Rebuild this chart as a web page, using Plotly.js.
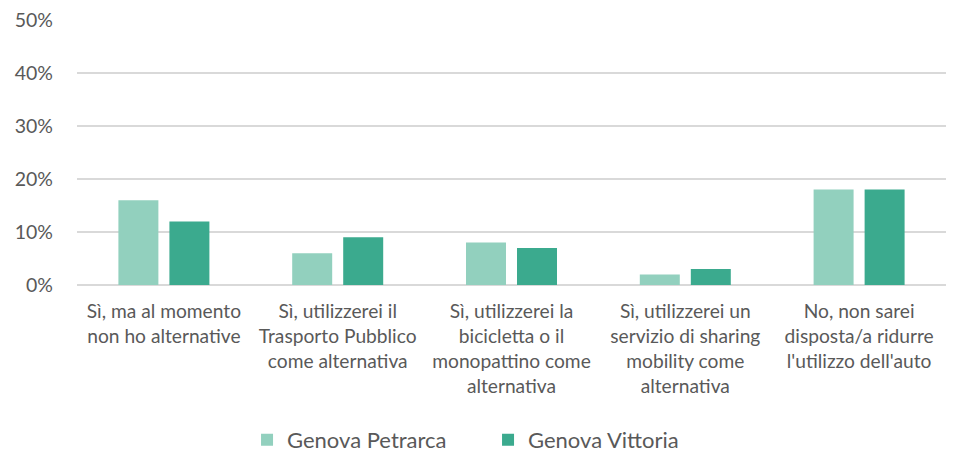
<!DOCTYPE html>
<html><head><meta charset="utf-8">
<script src="https://cdn.plot.ly/plotly-3.0.1.min.js"></script>
<style>body{margin:0;background:#fff}#c{width:953px;height:453px}</style>
</head><body><div id="c"></div>
<script>
const categories = [
  "Sì, ma al momento<br>non ho alternative",
  "Sì, utilizzerei il<br>Trasporto Pubblico<br>come alternativa",
  "Sì, utilizzerei la<br>bicicletta o il<br>monopattino come<br>alternativa",
  "Sì, utilizzerei un<br>servizio di sharing<br>mobility come<br>alternativa",
  "No, non sarei<br>disposta/a ridurre<br>l'utilizzo dell'auto"
];
const seriesNames = ["Genova Petrarca", "Genova Vittoria"];
const petrarca = [0.16, 0.06, 0.08, 0.02, 0.18];
const vittoria = [0.12, 0.09, 0.07, 0.03, 0.18];
const colors = ["#92D0BE", "#3BAA8E"];
const yTicks = [0, 0.1, 0.2, 0.3, 0.4, 0.5];

const font = "Lato, 'Open Sans', sans-serif";
const traces = [petrarca, vittoria].map((vals, i) => ({
  type: "bar", name: seriesNames[i], x: categories, y: vals,
  marker: {color: colors[i]}, hoverinfo: "skip"
}));
const layout = {
  width: 953, height: 453,
  margin: {l: 77, r: 7, t: 20, b: 168},
  paper_bgcolor: "#fff", plot_bgcolor: "#fff",
  font: {family: font, color: "#595959", size: 18},
  barmode: "group", bargap: 0.413, bargroupgap: 0.216,
  xaxis: {
    type: "category", showgrid: false, showline: false, zeroline: false,
    ticks: "", ticklabelstandoff: 13,
    tickfont: {size: 19.2, color: "#595959"}, automargin: false, fixedrange: true
  },
  yaxis: {
    range: [0, 0.5], tickvals: yTicks, tickformat: ".0%",
    showgrid: true, gridcolor: "#D9D9D9", gridwidth: 2,
    zeroline: true, zerolinecolor: "#D9D9D9", zerolinewidth: 2,
    showline: false, ticks: "", ticklabelstandoff: 23,
    tickfont: {size: 19.5, color: "#595959"}, automargin: false, fixedrange: true
  },
  showlegend: true,
  legend: {orientation: "h", x: 0.473, xanchor: "center", xref: "paper",
    y: 0.029, yanchor: "middle", yref: "container",
    font: {size: 22, color: "#595959"}, itemwidth: 30, entrywidth: 196, traceorder: "normal"}
};
Plotly.newPlot("c", traces, layout, {displayModeBar: false, staticPlot: true});
</script></body></html>
